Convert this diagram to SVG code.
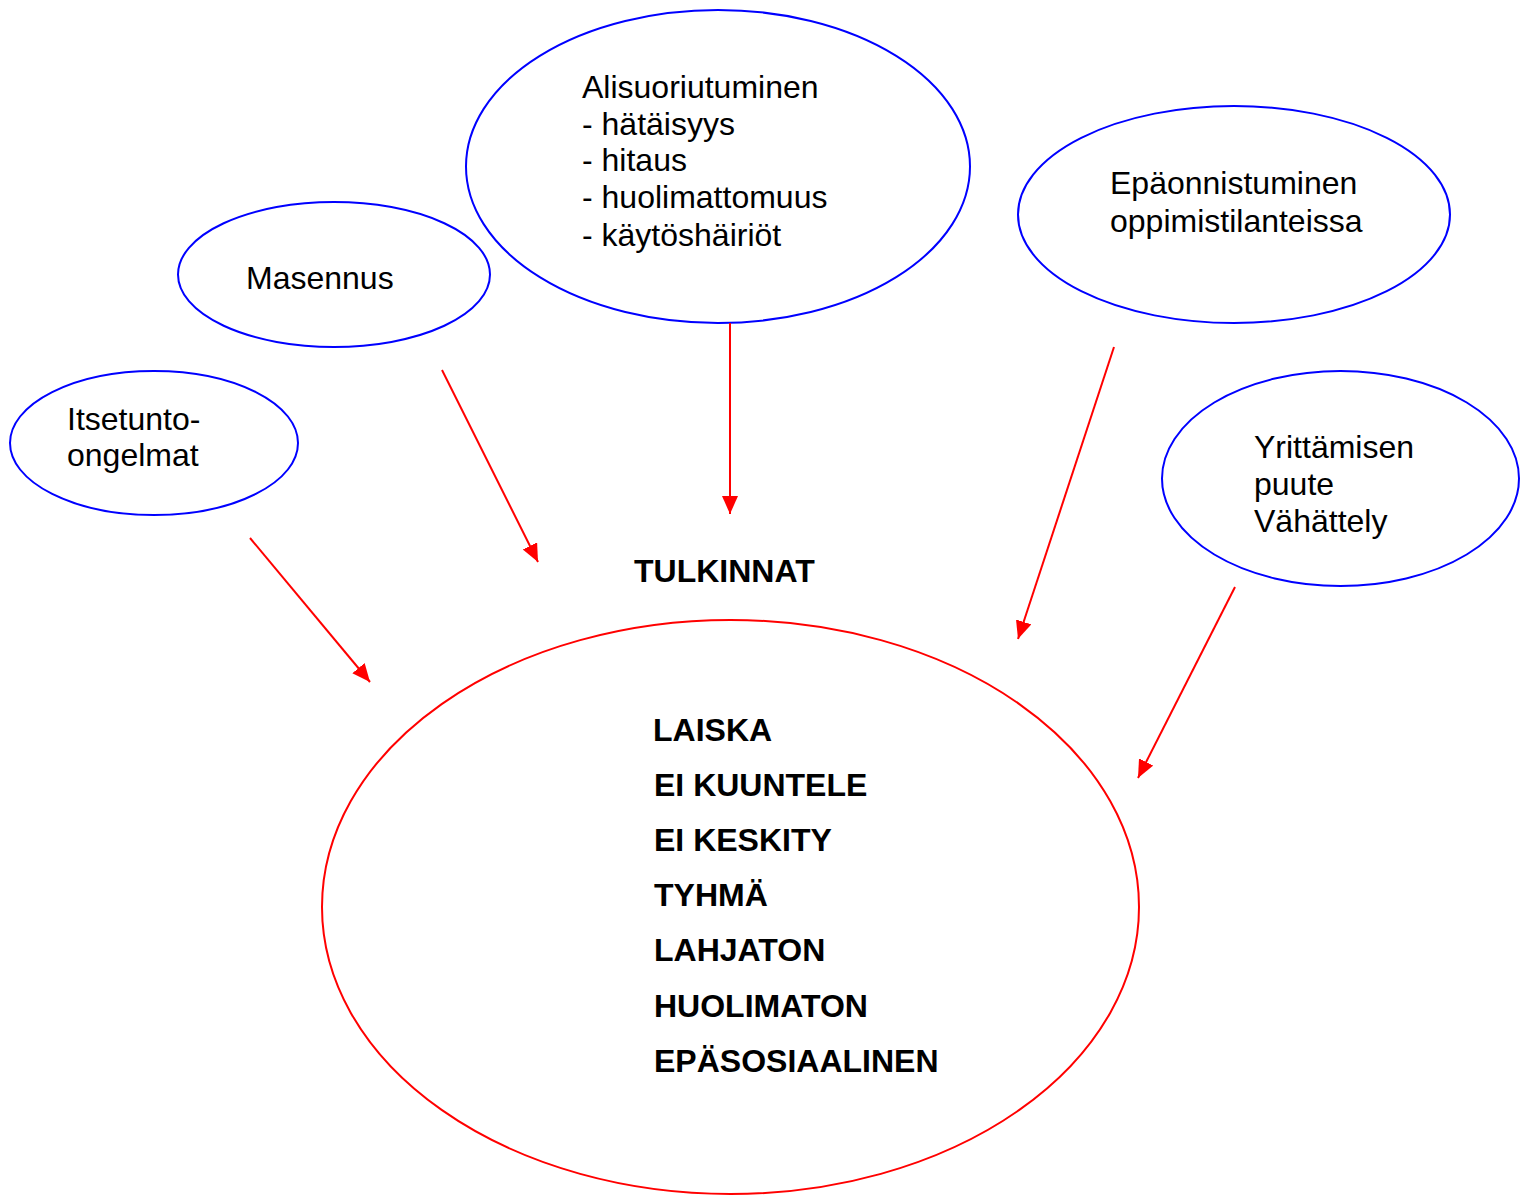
<svg xmlns="http://www.w3.org/2000/svg" width="1520" height="1195" viewBox="0 0 1520 1195">
<style>
.bn{fill:none;stroke:#0000ff;stroke-width:2}
.rn{fill:none;stroke:#ff0000;stroke-width:2}
.t{font-family:"Liberation Sans",Arial,sans-serif;font-size:32px;fill:#000}
.b{font-family:"Liberation Sans",Arial,sans-serif;font-size:32px;font-weight:bold;fill:#000}
.c{stroke:#ff0000;stroke-width:2;fill:none}
</style>
<defs>
<marker id="ah" markerUnits="userSpaceOnUse" markerWidth="20" markerHeight="18" refX="18" refY="8" orient="auto">
<path d="M0,0 L18,8 L0,16 z" fill="#ff0000"/>
</marker>
</defs>
<rect width="1520" height="1195" fill="#fff"/>
<g id="itsetunto">
<ellipse class="bn" cx="154" cy="443" rx="144" ry="72"/>
<text class="t" x="67" y="430">Itsetunto-</text>
<text class="t" x="67" y="466">ongelmat</text>
</g>
<g id="masennus">
<ellipse class="bn" cx="334" cy="274.5" rx="156" ry="72.5"/>
<text class="t" x="246" y="289">Masennus</text>
</g>
<g id="alisuoriutuminen">
<ellipse class="bn" cx="718" cy="166.5" rx="252" ry="156.5"/>
<text class="t" x="582" y="98">Alisuoriutuminen</text>
<text class="t" x="582" y="135">- hätäisyys</text>
<text class="t" x="582" y="171">- hitaus</text>
<text class="t" x="582" y="208">- huolimattomuus</text>
<text class="t" x="582" y="246">- käytöshäiriöt</text>
</g>
<g id="epaonnistuminen">
<ellipse class="bn" cx="1234" cy="214.5" rx="216" ry="108.5"/>
<text class="t" x="1110" y="194">Epäonnistuminen</text>
<text class="t" x="1110" y="232">oppimistilanteissa</text>
</g>
<g id="yrittamisen">
<ellipse class="bn" cx="1340.5" cy="478.5" rx="178.5" ry="107.5"/>
<text class="t" x="1254" y="458">Yrittämisen</text>
<text class="t" x="1254" y="495">puute</text>
<text class="t" x="1254" y="532">Vähättely</text>
</g>
<g id="tulkinnat-label">
<text class="b" x="634" y="582">TULKINNAT</text>
</g>
<g id="tulkinnat">
<ellipse class="rn" cx="730.5" cy="907" rx="408.5" ry="287"/>
<text class="b" x="653" y="741">LAISKA</text>
<text class="b" x="654" y="796">EI KUUNTELE</text>
<text class="b" x="654" y="851">EI KESKITY</text>
<text class="b" x="654" y="906">TYHMÄ</text>
<text class="b" x="654" y="961">LAHJATON</text>
<text class="b" x="654" y="1017">HUOLIMATON</text>
<text class="b" x="654" y="1072">EPÄSOSIAALINEN</text>
</g>
<g id="connectors">
<line class="c" x1="250" y1="538" x2="370" y2="682" marker-end="url(#ah)"/>
<line class="c" x1="442" y1="370" x2="538" y2="562" marker-end="url(#ah)"/>
<line class="c" x1="730" y1="323" x2="730" y2="514" marker-end="url(#ah)"/>
<line class="c" x1="1114" y1="347" x2="1018" y2="639" marker-end="url(#ah)"/>
<line class="c" x1="1235" y1="587" x2="1138" y2="778" marker-end="url(#ah)"/>
</g>
</svg>
